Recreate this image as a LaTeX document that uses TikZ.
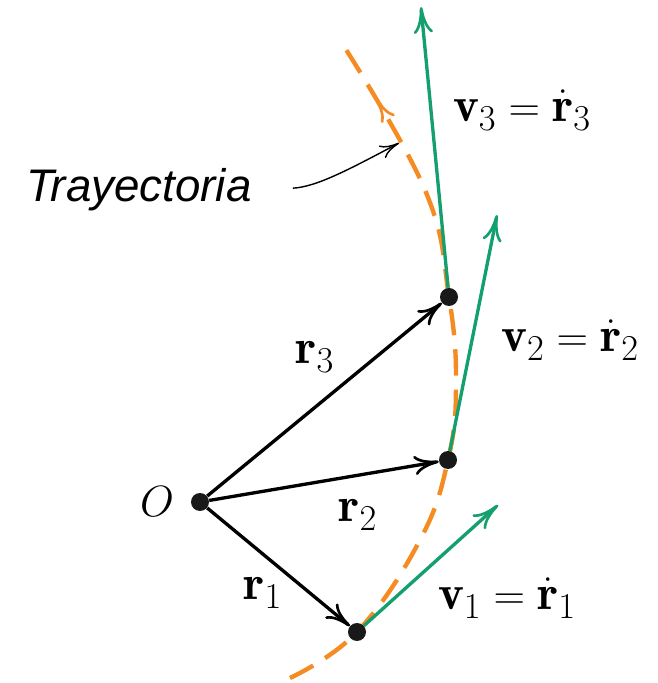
\documentclass[tikz,border=0pt]{standalone}
\usepackage{fontspec}
\newfontfamily\trayfont{Liberation Sans}
\usetikzlibrary{arrows.meta,decorations.markings}

\definecolor{velgreen}{RGB}{20,160,110}
\definecolor{trajorange}{RGB}{245,140,35}

\begin{document}
\begin{tikzpicture}[x=0.02cm, y=0.02cm,
    dot/.style={circle, fill=black!90, inner sep=0pt, minimum size=0.36cm},
    lab/.style={font=\fontsize{28}{32}\selectfont},
    vec/.style={line width=1.9pt, -{Computer Modern Rightarrow[length=14pt,width=11pt,line width=1.5pt]}},
    vel/.style={velgreen, line width=1.9pt, -{Computer Modern Rightarrow[length=15pt,width=11pt,line width=1.5pt]}},
    traj/.style={trajorange, line width=2.5pt, dash pattern=on 15pt off 8pt,
      decoration={markings, mark=at position 0.915 with {\arrow[solid]{Computer Modern Rightarrow[length=13pt,width=9pt,line width=1.5pt]}}},
      postaction={decorate}}]
  \useasboundingbox (0,0) rectangle (658,683);

  % trajectory
  \draw[traj] plot[smooth, tension=0.7] coordinates {(290,5) (357,51) (420,143) (448,223) (456,298) (449,386) (425,493) (345,635)};

  % positions
  \node[dot] (O) at (200,181) {};
  \node[dot] (P1) at (357,51) {};
  \node[dot] (P2) at (448,223) {};
  \node[dot] (P3) at (449,386) {};
  \node[lab] (Olab) at (157,181) {$O$};

  % position vectors
  \draw[vec] (O) -- (P1);
  \draw[vec] (O) -- (P2);
  \draw[vec] (O) -- (P3);
  \node[lab] (r1) at (263,90) {$\mathbf{r}_1$};
  \node[lab] (r2) at (358,168) {$\mathbf{r}_2$};
  \node[lab] (r3) at (315,326) {$\mathbf{r}_3$};

  % velocities
  \coordinate (v1tip) at (498,178);
  \coordinate (v2tip) at (497,468);
  \coordinate (v3tip) at (421,676);
  \draw[vel] (P1) -- (v1tip);
  \draw[vel] (P2) -- (v2tip);
  \draw[vel] (P3) -- (v3tip);
  \node[lab] (v1) at (507,85) {$\mathbf{v}_1 = \dot{\mathbf{r}}_1$};
  \node[lab] (v2) at (570,343) {$\mathbf{v}_2 = \dot{\mathbf{r}}_2$};
  \node[lab] (v3) at (522,573) {$\mathbf{v}_3 = \dot{\mathbf{r}}_3$};

  % label of the path
  \node[font=\trayfont\itshape\fontsize{26}{30}\selectfont] (tray) at (139,493) {Trayectoria};
  \coordinate (trayhit) at (399,540);
  \draw[line width=0.8pt, shorten <=20pt, -{Computer Modern Rightarrow[length=11pt,width=8pt,line width=0.8pt]}]
    (tray.east) to[out=3, in=208] (trayhit);
\end{tikzpicture}
\end{document}
